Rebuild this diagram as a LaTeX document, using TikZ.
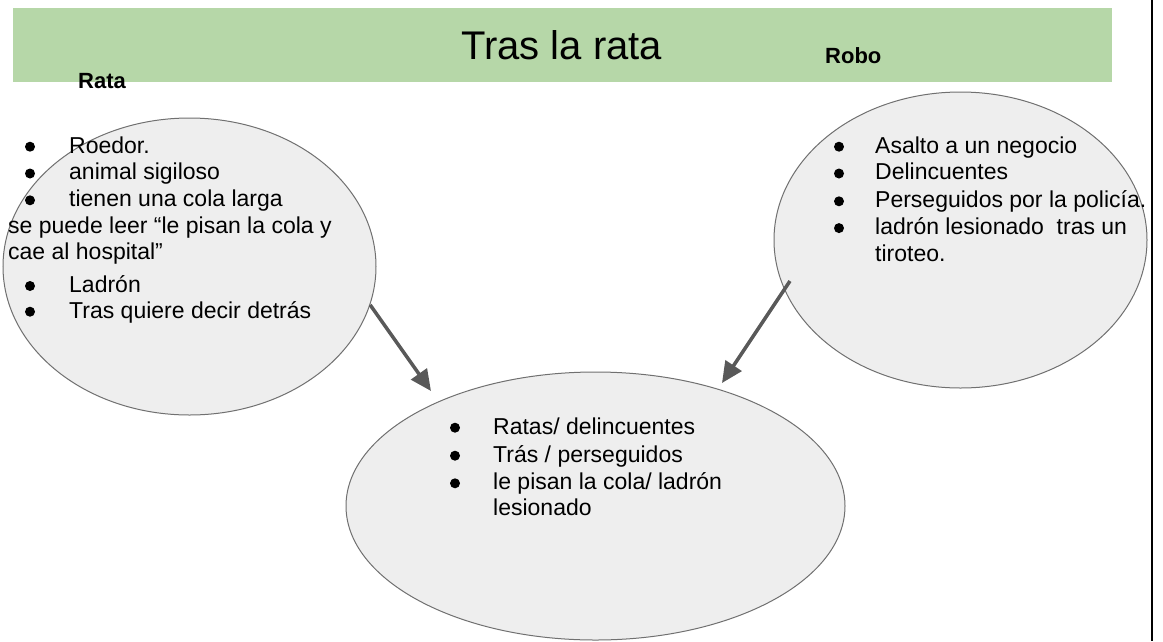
\documentclass[tikz,border=0pt]{standalone}
\usepackage{fontspec}
\setmainfont{Liberation Sans}
\usetikzlibrary{shapes.geometric,arrows.meta}
\definecolor{barg}{HTML}{B6D7A8}
\definecolor{ellf}{HTML}{EEEEEE}
\definecolor{elld}{HTML}{707070}
\definecolor{arrc}{HTML}{595959}
\begin{document}
\begin{tikzpicture}[x=1pt,y=-1pt,
 ell/.style={ellipse, draw=elld, line width=1pt, fill=ellf, inner sep=0pt},
 txt/.style={anchor=base west, inner sep=0pt, font=\fontsize{23}{27}\selectfont},
 bul/.style={circle, fill=black, inner sep=0pt, minimum size=10pt},
 arr/.style={draw=arrc, line width=3.5pt, -{Triangle[length=21pt,width=19pt]}},
 hdr/.style={anchor=base west, inner sep=0pt, font=\fontsize{22}{26}\selectfont\bfseries}]
\useasboundingbox (0,0) rectangle (1163,641);
\fill[white] (0,0) rectangle (1163,641);
% header bar
\node[fill=barg, minimum width=1099pt, minimum height=74pt, inner sep=0pt, anchor=north west] (bar) at (13,8) {};
\node[anchor=base west, inner sep=0pt, font=\fontsize{40}{48}\selectfont] (title) at (461,59) {Tras la rata};
\node[hdr] (rata) at (78,88) {Rata};
\node[hdr] (robo) at (825,63) {Robo};
% right frame line
\draw[line width=1.5pt] (1152,0) -- (1152,641);
% ellipses
\node[ell, minimum width=373pt, minimum height=297pt] (L) at (189.5,266.5) {};
\node[ell, minimum width=373pt, minimum height=296pt] (R) at (960.5,240) {};
\node[ell, minimum width=499pt, minimum height=268pt] (M) at (595.5,506) {};
% arrows
\coordinate (a1e) at (431,391);
\coordinate (a2s) at (790,281);
\coordinate (a2e) at (722,383);
\draw[arr] (L.-12.8) -- (a1e);
\draw[arr] (a2s) -- (a2e);
% left text
\node[bul] (lb1) at (30,146.7) {};
\node[bul] (lb2) at (30,173.5) {};
\node[bul] (lb3) at (30,200.3) {};
\node[bul] (lb4) at (30,286) {};
\node[bul] (lb5) at (30,311.7) {};
\node[txt] (lt1) at (69,153) {Roedor.};
\node[txt] (lt2) at (69,179.8) {animal sigiloso};
\node[txt] (lt3) at (69,206.6) {tienen una cola larga};
\node[txt] (lt4) at (8,233.4) {se puede leer “le pisan la cola y};
\node[txt] (lt5) at (8,259) {cae al hospital”};
\node[txt] (lt6) at (69,292.3) {Ladrón};
\node[txt] (lt7) at (69,318) {Tras quiere decir detrás};
% right text
\node[bul] (rb1) at (839,146.7) {};
\node[bul] (rb2) at (839,173.5) {};
\node[bul] (rb3) at (839,201.3) {};
\node[bul] (rb4) at (839,228.1) {};
\node[txt] (rt1) at (875,153) {Asalto a un negocio};
\node[txt] (rt2) at (875,179.8) {Delincuentes};
\node[txt] (rt3) at (875,207.6) {Perseguidos por la policía.};
\node[txt] (rt4) at (875,234.4) {ladrón lesionado\ \ tras un};
\node[txt] (rt5) at (875,261) {tiroteo.};
% bottom text
\node[bul] (mb1) at (455,427.7) {};
\node[bul] (mb2) at (455,455.7) {};
\node[bul] (mb3) at (455,483.3) {};
\node[txt] (mt1) at (493,434) {Ratas/ delincuentes};
\node[txt] (mt2) at (493,462) {Trás / perseguidos};
\node[txt] (mt3) at (493,489) {le pisan la cola/ ladrón};
\node[txt] (mt4) at (493,515) {lesionado};
\end{tikzpicture}
\end{document}
